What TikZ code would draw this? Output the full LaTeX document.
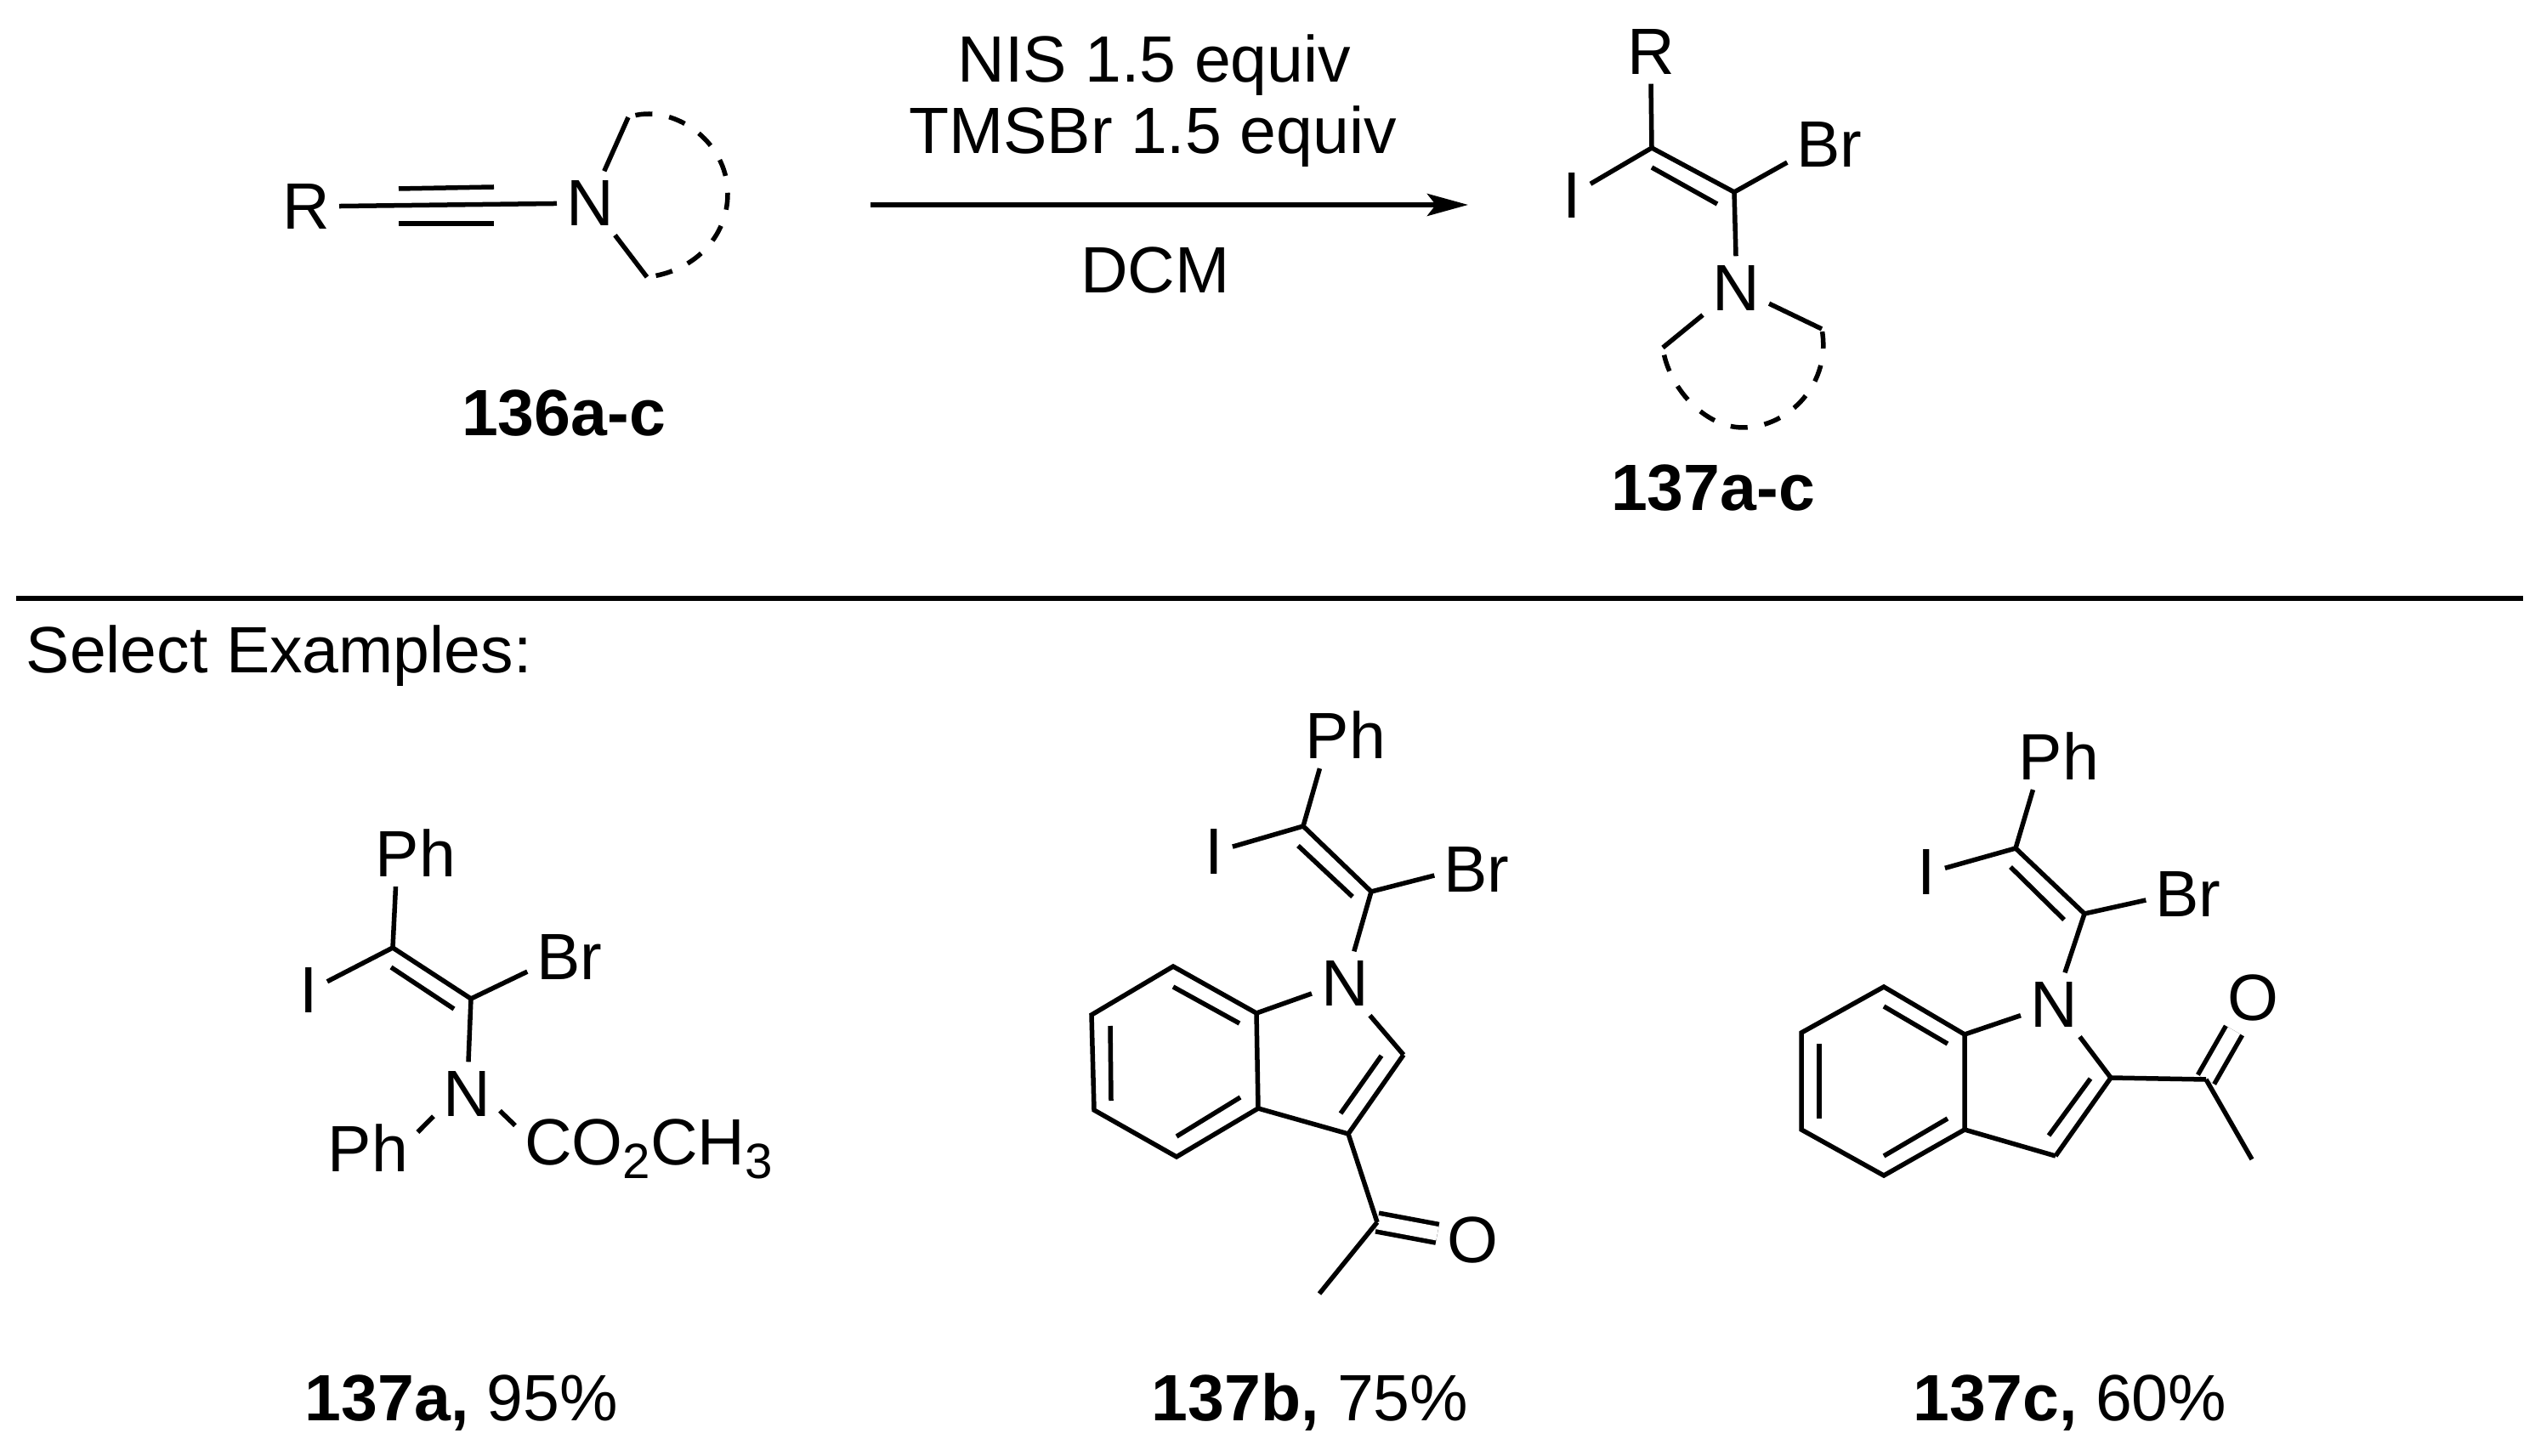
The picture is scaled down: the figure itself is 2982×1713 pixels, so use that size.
\documentclass[tikz,border=0pt]{standalone}
\usepackage{fontspec}
\setmainfont{Liberation Sans}
\usetikzlibrary{arrows.meta}
\newcommand{\chemsub}[1]{\raisebox{-0.22em}{\fontsize{16.6}{18}\selectfont #1}}
\tikzset{
  atom/.style={inner sep=1.05mm},
  caption/.style={inner sep=0pt,anchor=base},
  bond/.style={black,line width=0.055cm},
  dblbond/.style={black,line width=0.055cm,double=white,double distance=0.165cm},
  ringdash/.style={black,line width=0.055cm,dash pattern=on 5.7pt off 5.7pt,dash phase=8.9pt},
  reaction/.style={black,line width=0.06cm,-{Stealth[length=0.48cm,width=0.26cm,inset=0.1cm]}},
  divider/.style={black,line width=0.06cm}
}
\begin{document}
\begin{tikzpicture}[x=0.01cm,y=0.01cm,every node/.append style={font=\fontsize{21.9}{25}\selectfont}]
\useasboundingbox (0,0) rectangle (2982,-1713);
\node [caption] (reagent1) at (1358,-97) {NIS 1.5 equiv};
\node [caption] (reagent2) at (1356,-181) {TMSBr 1.5 equiv};
\node [caption] (solvent) at (1359,-345) {DCM};
\coordinate (arrowstart) at (1024,-241);
\coordinate (arrowend) at (1727,-241);
\draw [reaction] (arrowstart) -- (arrowend);
\node [atom] (yr) at (360,-243) {R};
\node [atom] (yn) at (694,-239) {N};
\coordinate (yt1) at (469,-222);
\coordinate (yt2) at (581,-220);
\coordinate (yt3) at (469,-263);
\coordinate (yt4) at (581,-263);
\coordinate (yr1) at (739,-138);
\coordinate (yr2) at (761,-326);
\draw [bond] (yr) -- (yn);
\draw [bond] (yt1) -- (yt2);
\draw [bond] (yt3) -- (yt4);
\draw [bond] (yn.66) -- (yr1);
\draw [bond] (yn.308) -- (yr2);
\draw [ringdash] (yr1) .. controls (790,-120) and (856,-165) .. (856,-228) .. controls (856,-280) and (815,-320) .. (yr2);
\node [caption] (cmpd136) at (663,-513) {\textbf{136a-c}};
\node [atom] (pr) at (1942,-61) {R};
\node [atom] (pi) at (1849,-230) {I};
\node [atom] (pbr) at (2152,-170) {Br};
\node [atom] (pn) at (2042,-339) {N};
\coordinate (pc1) at (1943,-174);
\coordinate (pc2) at (2040,-226);
\coordinate (pd1) at (1943,-197);
\coordinate (pd2) at (2020,-240);
\coordinate (pr1) at (1956,-409);
\coordinate (pr2) at (2143,-387);
\draw [bond] (pc1) -- (pr.270);
\draw [bond] (pc1) -- (pi.32);
\draw [bond] (pc1) -- (pc2);
\draw [bond] (pd1) -- (pd2);
\draw [bond] (pc2) -- (pbr.203);
\draw [bond] (pc2) -- (pn.90);
\draw [bond] (pn.219) -- (pr1);
\draw [bond] (pn.335) -- (pr2);
\draw [ringdash] (pr1) .. controls (1962,-455) and (2005,-503) .. (2050,-503) .. controls (2105,-503) and (2155,-450) .. (pr2);
\node [caption] (cmpd137) at (2015,-601) {\textbf{137a-c}};
\coordinate (ruleleft) at (19,-704);
\coordinate (ruleright) at (2968,-704);
\draw [divider] (ruleleft) -- (ruleright);
\node [caption,anchor=base west] (select) at (30,-792) {Select Examples:};
\node [atom] (aph) at (489,-1004) {Ph};
\node [atom] (ai) at (363,-1165) {I};
\node [atom] (abr) at (670,-1126) {Br};
\node [atom] (an) at (549,-1287) {N};
\node [atom] (aph2) at (433,-1351) {Ph};
\node [atom,anchor=base west] (aco) at (606,-1370) {CO\chemsub{2}CH\chemsub{3}};
\coordinate (ac1) at (462,-1115);
\coordinate (ac2) at (554,-1175);
\coordinate (ad1) at (460,-1138);
\coordinate (ad2) at (534,-1187);
\draw [bond] (ac1) -- (aph.239);
\draw [bond] (ac1) -- (ai.25);
\draw [bond] (ac1) -- (ac2);
\draw [bond] (ad1) -- (ad2);
\draw [bond] (ac2) -- (abr.199);
\draw [bond] (ac2) -- (an.87);
\draw [bond] (an.214) -- (aph2.18);
\draw [bond] (an.333) -- (aco.170);
\node [caption] (cmpda) at (543,-1671) {\textbf{137a,} 95\%};
\node [atom] (bph) at (1583,-865) {Ph};
\node [atom] (bi) at (1428,-1002) {I};
\node [atom] (bbr) at (1737,-1023) {Br};
\node [atom] (bn) at (1582,-1157) {N};
\node [atom] (bo) at (1732,-1459) {O};
\coordinate (bc1) at (1533,-972);
\coordinate (bc2) at (1613,-1049);
\coordinate (bd1) at (1527,-995);
\coordinate (bd2) at (1591,-1055);
\coordinate (b7a) at (1478,-1192);
\coordinate (b7) at (1380,-1137);
\coordinate (b6) at (1284,-1194);
\coordinate (b5) at (1287,-1306);
\coordinate (b4) at (1384,-1361);
\coordinate (b3a) at (1480,-1304);
\coordinate (b2) at (1651,-1241);
\coordinate (b3) at (1586,-1334);
\coordinate (b8) at (1620,-1438);
\coordinate (bme) at (1552,-1522);
\coordinate (be1) at (1380,-1161);
\coordinate (be2) at (1458,-1204);
\coordinate (be3) at (1306,-1207);
\coordinate (be4) at (1307,-1295);
\coordinate (be5) at (1384,-1337);
\coordinate (be6) at (1459,-1291);
\coordinate (be7) at (1625,-1242);
\coordinate (be8) at (1577,-1310);
\draw [bond] (bc1) -- (bph.232);
\draw [bond] (bc1) -- (bi.15);
\draw [bond] (bc1) -- (bc2);
\draw [bond] (bd1) -- (bd2);
\draw [bond] (bc2) -- (bbr.188);
\draw [bond] (bc2) -- (bn.74);
\draw [bond] (b7a) -- (b7) -- (b6) -- (b5) -- (b4) -- (b3a) -- cycle;
\draw [bond] (be1) -- (be2);
\draw [bond] (be3) -- (be4);
\draw [bond] (be5) -- (be6);
\draw [bond] (bn.197) -- (b7a);
\draw [bond] (bn.308) -- (b2);
\draw [bond] (b2) -- (b3);
\draw [bond] (be7) -- (be8);
\draw [bond] (b3a) -- (b3);
\draw [dblbond] (b8) -- (bo);
\draw [bond] (b3) -- (b8);
\draw [bond] (b8) -- (bme);
\node [caption] (cmpdb) at (1541,-1671) {\textbf{137b,} 75\%};
\node [atom] (cph) at (2422,-890) {Ph};
\node [atom] (ci) at (2266,-1026) {I};
\node [atom] (cbr) at (2574,-1052) {Br};
\node [atom] (cn) at (2416,-1182) {N};
\node [atom] (co) at (2650,-1174) {O};
\coordinate (cc1) at (2371,-998);
\coordinate (cc2) at (2452,-1075);
\coordinate (cd1) at (2365,-1020);
\coordinate (cd2) at (2428,-1082);
\coordinate (c7a) at (2311,-1217);
\coordinate (c7) at (2216,-1161);
\coordinate (c6) at (2119,-1215);
\coordinate (c5) at (2119,-1329);
\coordinate (c4) at (2216,-1383);
\coordinate (c3a) at (2311,-1329);
\coordinate (c2) at (2483,-1268);
\coordinate (c3) at (2418,-1360);
\coordinate (c8) at (2595,-1270);
\coordinate (cme) at (2649,-1364);
\coordinate (ce1) at (2216,-1184);
\coordinate (ce2) at (2291,-1228);
\coordinate (ce3) at (2140,-1228);
\coordinate (ce4) at (2140,-1316);
\coordinate (ce5) at (2216,-1360);
\coordinate (ce6) at (2291,-1316);
\coordinate (ce7) at (2459,-1269);
\coordinate (ce8) at (2410,-1336);
\draw [bond] (cc1) -- (cph.232);
\draw [bond] (cc1) -- (ci.12);
\draw [bond] (cc1) -- (cc2);
\draw [bond] (cd1) -- (cd2);
\draw [bond] (cc2) -- (cbr.188);
\draw [bond] (cc2) -- (cn.71);
\draw [bond] (c7a) -- (c7) -- (c6) -- (c5) -- (c4) -- (c3a) -- cycle;
\draw [bond] (ce1) -- (ce2);
\draw [bond] (ce3) -- (ce4);
\draw [bond] (ce5) -- (ce6);
\draw [bond] (cn.198) -- (c7a);
\draw [bond] (cn.309) -- (c2);
\draw [bond] (c2) -- (c3);
\draw [bond] (ce7) -- (ce8);
\draw [bond] (c3a) -- (c3);
\draw [dblbond] (c8) -- (co);
\draw [bond] (c2) -- (c8);
\draw [bond] (c8) -- (cme);
\node [caption] (cmpdc) at (2435,-1671) {\textbf{137c,} 60\%};
\end{tikzpicture}
\end{document}
